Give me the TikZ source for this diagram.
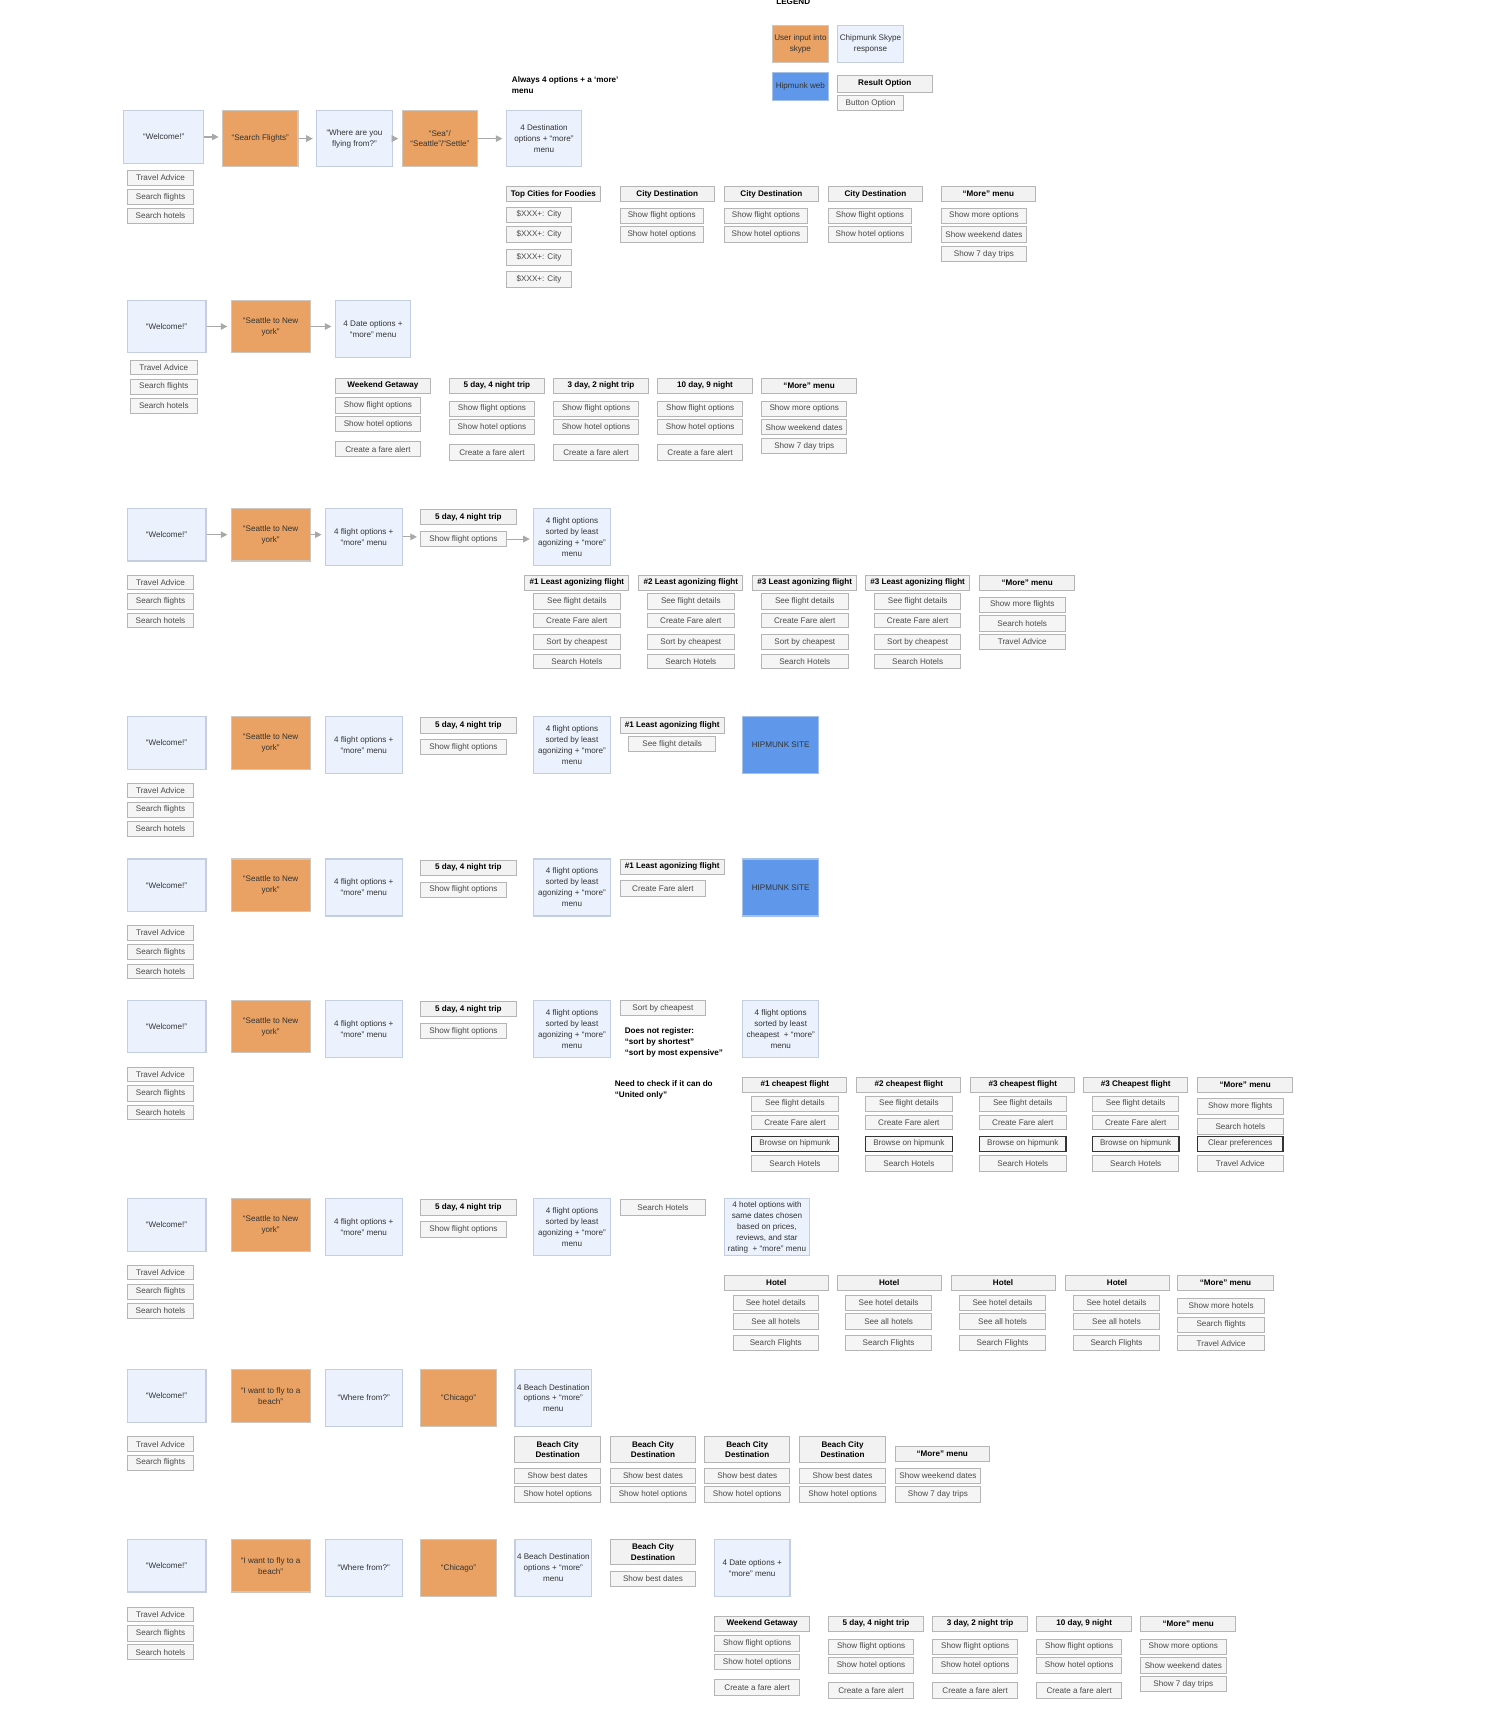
\documentclass[tikz,border=0pt]{standalone}
\usepackage{fontspec}
\setmainfont{Liberation Sans}
\usetikzlibrary{arrows.meta}
\definecolor{lbfill}{HTML}{EBF2FD}
\definecolor{lbdraw}{HTML}{C3CFE0}
\definecolor{orfill}{HTML}{E9A263}
\definecolor{ordraw}{HTML}{CFC6BE}
\definecolor{webfill}{HTML}{5F98EA}
\definecolor{webdraw}{HTML}{A7C0E6}
\definecolor{hdfill}{HTML}{F2F2F2}
\definecolor{btfill}{HTML}{F5F5F5}
\definecolor{btdraw}{HTML}{B5B5B5}
\definecolor{arrgray}{HTML}{A9A9A9}
\definecolor{txt}{HTML}{333333}
\definecolor{bttxt}{HTML}{4A4A4A}
\newcommand\dfs{\fontsize{7.4}{10}\selectfont}
\newcommand\dbx[7]{\node[#1,minimum width={((#5)-(#3))*1pt},minimum height={((#6)-(#4))*1pt}] (#2) at ({((#3)+(#5))/2},{((#4)+(#6))/2}) {#7};}
% date column: name, x, y, header, off1, off3, t1, t2, t3
\newcommand\colthree[9]{%
 \dbx{hd}{#1h}{#2}{#3}{#2+87}{#3+14}{#4}%
 \dbx{bt}{#1a}{#2}{#3+#5}{#2+78}{#3+#5+14}{#7}%
 \dbx{bt}{#1b}{#2}{#3+#5+17}{#2+78}{#3+#5+31}{#8}%
 \dbx{bt}{#1c}{#2}{#3+#6}{#2+78}{#3+#6+14}{#9}}
\newcommand\dategrp[3]{%
 \colthree{#1c1}{#2}{#3}{Weekend Getaway}{18}{58}{Show flight options}{Show hotel options}{Create a fare alert}%
 \colthree{#1c2}{#2+104}{#3}{5 day, 4 night trip}{21}{61}{Show flight options}{Show hotel options}{Create a fare alert}%
 \colthree{#1c3}{#2+199}{#3}{3 day, 2 night trip}{21}{61}{Show flight options}{Show hotel options}{Create a fare alert}%
 \colthree{#1c4}{#2+294}{#3}{10 day, 9 night}{21}{61}{Show flight options}{Show hotel options}{Create a fare alert}%
 \colthree{#1c5}{#2+389}{#3}{“More” menu}{21}{55}{Show more options}{Show weekend dates}{Show 7 day trips}}
\newcommand\frow[2]{%
 \dbx{lb}{#1w}{116}{#2}{188}{#2+48}{“Welcome!”}%
 \dbx{ob}{#1o}{211}{#2}{283}{#2+48}{“Seattle to New\\york”}%
 \dbx{lb}{#1f}{297}{#2}{367}{#2+52}{4 flight options +\\“more” menu}%
 \dbx{hd}{#1h}{384}{#2+1}{471}{#2+15}{5 day, 4 night trip}%
 \dbx{bt}{#1s}{384}{#2+21}{462}{#2+35}{Show flight options}%
 \dbx{lb}{#1g}{487}{#2}{557}{#2+52}{4 flight options\\sorted by least\\agonizing + “more”\\menu}%
 \dbx{bt}{#1l1}{116}{#2+61}{177}{#2+74}{Travel Advice}%
 \dbx{bt}{#1l2}{116}{#2+78}{177}{#2+92}{Search flights}%
 \dbx{bt}{#1l3}{116}{#2+96}{177}{#2+109}{Search hotels}}
\newcommand\agcol[3]{%
 \dbx{hd}{#1h}{#2}{525}{#2+95}{539}{#3}%
 \dbx{bt}{#1a}{#2+8}{542}{#2+87}{556}{See flight details}%
 \dbx{bt}{#1b}{#2+8}{560}{#2+87}{573}{Create Fare alert}%
 \dbx{bt}{#1c}{#2+8}{579}{#2+87}{593}{Sort by cheapest}%
 \dbx{bt}{#1d}{#2+8}{597}{#2+87}{610}{Search Hotels}}
\newcommand\chcol[3]{%
 \dbx{hd}{#1h}{#2}{983}{#2+95}{997}{#3}%
 \dbx{bt}{#1a}{#2+8}{1001}{#2+87}{1014}{See flight details}%
 \dbx{bt}{#1b}{#2+8}{1018}{#2+87}{1031}{Create Fare alert}%
 \dbx{btd}{#1c}{#2+8}{1037}{#2+87}{1051}{Browse on hipmunk}%
 \dbx{bt}{#1d}{#2+8}{1055}{#2+87}{1069}{Search Hotels}}
\newcommand\hocol[2]{%
 \dbx{hd}{#1h}{#2}{1164}{#2+95}{1178}{Hotel}%
 \dbx{bt}{#1a}{#2+8}{1182}{#2+86}{1196}{See hotel details}%
 \dbx{bt}{#1b}{#2+8}{1199}{#2+86}{1213}{See all hotels}%
 \dbx{bt}{#1c}{#2+8}{1219}{#2+86}{1233}{Search Flights}}
\newcommand\bccol[2]{%
 \dbx{hd}{#1h}{#2}{1311}{#2+78}{1335}{Beach City\\Destination}%
 \dbx{bt}{#1a}{#2}{1340}{#2+78}{1354}{Show best dates}%
 \dbx{bt}{#1b}{#2}{1357}{#2+78}{1371}{Show hotel options}}
\newcommand\cdcol[2]{%
 \dbx{hd}{#1h}{#2}{170}{#2+86}{184}{City Destination}%
 \dbx{bt}{#1a}{#2}{190}{#2+76}{204}{Show flight options}%
 \dbx{bt}{#1b}{#2}{207}{#2+76}{221}{Show hotel options}}
\tikzset{
 boxbase/.style={font=\dfs, align=center, inner sep=0.5pt, text=txt},
 lb/.style={boxbase, fill=lbfill, draw=lbdraw, line width=1pt},
 ob/.style={boxbase, fill=orfill, draw=ordraw, line width=1pt},
 wb/.style={boxbase, fill=webfill, draw=webdraw, line width=1pt},
 hd/.style={boxbase, fill=hdfill, draw=btdraw, line width=0.9pt, font=\dfs\bfseries, text=black},
 bt/.style={boxbase, fill=btfill, draw=btdraw, line width=0.9pt, text=bttxt},
 btd/.style={bt, draw=black!80, line width=1.1pt},
 notetxt/.style={font=\dfs\bfseries, align=left, inner sep=0pt, anchor=north west, text=black},
 arr/.style={draw=arrgray, line width=1pt, shorten >=3pt, -{Triangle[length=6pt,width=6pt]}},
}
\begin{document}
\begin{tikzpicture}[x=1pt,y=-1pt]
\fill[white] (0,0) rectangle (1361,1568);
\useasboundingbox (0,0) rectangle (1361,1568);
% legend
\node[font=\dfs\bfseries, anchor=base, inner sep=0pt] (leg) at (724,4.5) {LEGEND};
\dbx{ob}{lg1}{705}{23}{756}{57}{User input into\\skype}
\dbx{lb}{lg2}{764}{23}{825}{57}{Chipmunk Skype\\response}
\dbx{wb}{lg3}{705}{66}{756}{92}{Hipmunk web}
\dbx{hd}{lg4}{764}{69}{851}{84}{Result Option}
\dbx{bt}{lg5}{764}{87}{825}{101}{Button Option}
% row 1
\node[notetxt] (n1) at (467,70) {Always 4 options + a ‘more’\\menu};
\dbx{lb}{w1}{113}{101}{186}{149}{“Welcome!”}
\dbx{ob}{o1a}{203}{101}{272}{152}{“Search Flights”}
\dbx{lb}{q1}{289}{101}{358}{152}{“Where are you\\flying from?”}
\dbx{ob}{o1b}{367}{101}{436}{152}{“Sea”/\\“Seattle”/“Settle”}
\dbx{lb}{d1}{462}{101}{531}{152}{4 Destination\\options + “more”\\menu}
\draw[arr] (w1.east) -- (w1.east -| o1a.west);
\draw[arr] (o1a.east) -- (o1a.east -| q1.west);
\draw[arr] (q1.east) -- (q1.east -| o1b.west);
\draw[arr] (o1b.east) -- (o1b.east -| d1.west);
\dbx{bt}{r1l1}{116}{156}{177}{169}{Travel Advice}
\dbx{bt}{r1l2}{116}{173}{177}{187}{Search flights}
\dbx{bt}{r1l3}{116}{190}{177}{204}{Search hotels}
\dbx{hd}{tc}{462}{170}{548}{184}{Top Cities for Foodies}
\dbx{bt}{tc1}{462}{189}{522}{203}{\$XXX+: City}
\dbx{bt}{tc2}{462}{207}{522}{221}{\$XXX+: City}
\dbx{bt}{tc3}{462}{228}{522}{242}{\$XXX+: City}
\dbx{bt}{tc4}{462}{248}{522}{262}{\$XXX+: City}
\cdcol{cda}{566}
\cdcol{cdb}{661}
\cdcol{cdc}{756}
\dbx{hd}{m1}{859}{170}{945}{184}{“More” menu}
\dbx{bt}{m1a}{859}{190}{937}{204}{Show more options}
\dbx{bt}{m1b}{859}{207}{937}{221}{Show weekend dates}
\dbx{bt}{m1c}{859}{225}{937}{239}{Show 7 day trips}
% row 2
\dbx{lb}{w2}{116}{274}{188}{322}{“Welcome!”}
\dbx{ob}{o2}{211}{274}{283}{322}{“Seattle to New\\york”}
\dbx{lb}{d2}{306}{274}{375}{326}{4 Date options +\\“more” menu}
\draw[arr] (w2.east) -- (w2.east -| o2.west);
\draw[arr] (o2.east) -- (o2.east -| d2.west);
\dbx{bt}{r2l1}{119}{329}{180}{342}{Travel Advice}
\dbx{bt}{r2l2}{119}{346}{180}{360}{Search flights}
\dbx{bt}{r2l3}{119}{364}{180}{377}{Search hotels}
\dategrp{r2}{306}{345}
% row 3
\frow{r3}{464}
\draw[arr] (r3w.east) -- (r3w.east -| r3o.west);
\draw[arr] (r3o.east) -- (r3o.east -| r3f.west);
\draw[arr] (r3f.east) -- (r3f.east -| r3s.west);
\draw[arr] (r3s.east) -- (r3s.east -| r3g.west);
\agcol{ag1}{479}{\#1 Least agonizing flight}
\agcol{ag2}{583}{\#2 Least agonizing flight}
\agcol{ag3}{687}{\#3 Least agonizing flight}
\agcol{ag4}{790}{\#3 Least agonizing flight}
\dbx{hd}{m3}{894}{525}{981}{539}{“More” menu}
\dbx{bt}{m3a}{894}{545}{972}{559}{Show more flights}
\dbx{bt}{m3b}{894}{562}{972}{576}{Search hotels}
\dbx{bt}{m3c}{894}{579}{972}{593}{Travel Advice}
% row 4
\frow{r4}{654}
\dbx{hd}{r4x}{566}{655}{661}{669}{\#1 Least agonizing flight}
\dbx{bt}{r4y}{574}{672}{653}{686}{See flight details}
\dbx{wb}{r4z}{678}{654}{747}{706}{HIPMUNK SITE}
% row 5
\frow{r5}{784}
\dbx{hd}{r5x}{566}{784}{661}{798}{\#1 Least agonizing flight}
\dbx{bt}{r5y}{566}{804}{644}{818}{Create Fare alert}
\dbx{wb}{r5z}{678}{784}{747}{836}{HIPMUNK SITE}
% row 6
\frow{r6}{913}
\dbx{bt}{r6x}{566}{913}{644}{927}{Sort by cheapest}
\node[notetxt] (n6a) at (570,938) {Does not register:\\“sort by shortest”\\“sort by most expensive”};
\dbx{lb}{r6z}{678}{913}{747}{965}{4 flight options\\sorted by least\\cheapest~ + “more”\\menu}
\node[notetxt] (n6b) at (561,986) {Need to check if it can do\\“United only”};
\chcol{ch1}{678}{\#1 cheapest flight}
\chcol{ch2}{782}{\#2 cheapest flight}
\chcol{ch3}{886}{\#3 cheapest flight}
\chcol{ch4}{989}{\#3 Cheapest flight}
\dbx{hd}{m6}{1093}{983}{1180}{997}{“More” menu}
\dbx{bt}{m6a}{1093}{1003}{1171}{1017}{Show more flights}
\dbx{bt}{m6b}{1093}{1021}{1171}{1035}{Search hotels}
\dbx{btd}{m6c}{1093}{1037}{1171}{1051}{Clear preferences}
\dbx{bt}{m6d}{1093}{1055}{1171}{1069}{Travel Advice}
% row 7
\frow{r7}{1094}
\dbx{bt}{r7x}{566}{1095}{644}{1109}{Search Hotels}
\dbx{lb}{r7z}{661}{1094}{739}{1146}{4 hotel options with\\same dates chosen\\based on prices,\\reviews, and star\\rating~ + “more” menu}
\hocol{ho1}{661}
\hocol{ho2}{764}
\hocol{ho3}{868}
\hocol{ho4}{972}
\dbx{hd}{m7}{1075}{1164}{1162}{1178}{“More” menu}
\dbx{bt}{m7a}{1075}{1185}{1154}{1199}{Show more hotels}
\dbx{bt}{m7b}{1075}{1202}{1154}{1216}{Search flights}
\dbx{bt}{m7c}{1075}{1219}{1154}{1233}{Travel Advice}
% row 8
\dbx{lb}{w8}{116}{1250}{188}{1298}{“Welcome!”}
\dbx{ob}{o8}{211}{1250}{283}{1298}{“I want to fly to a\\beach”}
\dbx{lb}{q8}{297}{1250}{367}{1302}{“Where from?”}
\dbx{ob}{c8}{384}{1250}{453}{1302}{“Chicago”}
\dbx{lb}{d8}{470}{1250}{540}{1302}{4 Beach Destination\\options + “more”\\menu}
\dbx{bt}{r8l1}{116}{1311}{177}{1325}{Travel Advice}
\dbx{bt}{r8l2}{116}{1328}{177}{1342}{Search flights}
\bccol{bc1}{470}
\bccol{bc2}{557}
\bccol{bc3}{643}
\bccol{bc4}{730}
\dbx{hd}{m8}{817}{1320}{903}{1334}{“More” menu}
\dbx{bt}{m8a}{817}{1340}{895}{1354}{Show weekend dates}
\dbx{bt}{m8b}{817}{1357}{895}{1371}{Show 7 day trips}
% row 9
\dbx{lb}{w9}{116}{1405}{188}{1453}{“Welcome!”}
\dbx{ob}{o9}{211}{1405}{283}{1453}{“I want to fly to a\\beach”}
\dbx{lb}{q9}{297}{1405}{367}{1457}{“Where from?”}
\dbx{ob}{c9}{384}{1405}{453}{1457}{“Chicago”}
\dbx{lb}{d9}{470}{1405}{540}{1457}{4 Beach Destination\\options + “more”\\menu}
\dbx{hd}{b9}{557}{1405}{635}{1428}{Beach City\\Destination}
\dbx{bt}{b9a}{557}{1434}{635}{1448}{Show best dates}
\dbx{lb}{e9}{652}{1405}{721}{1457}{4 Date options +\\“more” menu}
\dbx{bt}{r9l1}{116}{1467}{177}{1480}{Travel Advice}
\dbx{bt}{r9l2}{116}{1484}{177}{1498}{Search flights}
\dbx{bt}{r9l3}{116}{1501}{177}{1515}{Search hotels}
\dategrp{r9}{652}{1475}
\end{tikzpicture}
\end{document}
